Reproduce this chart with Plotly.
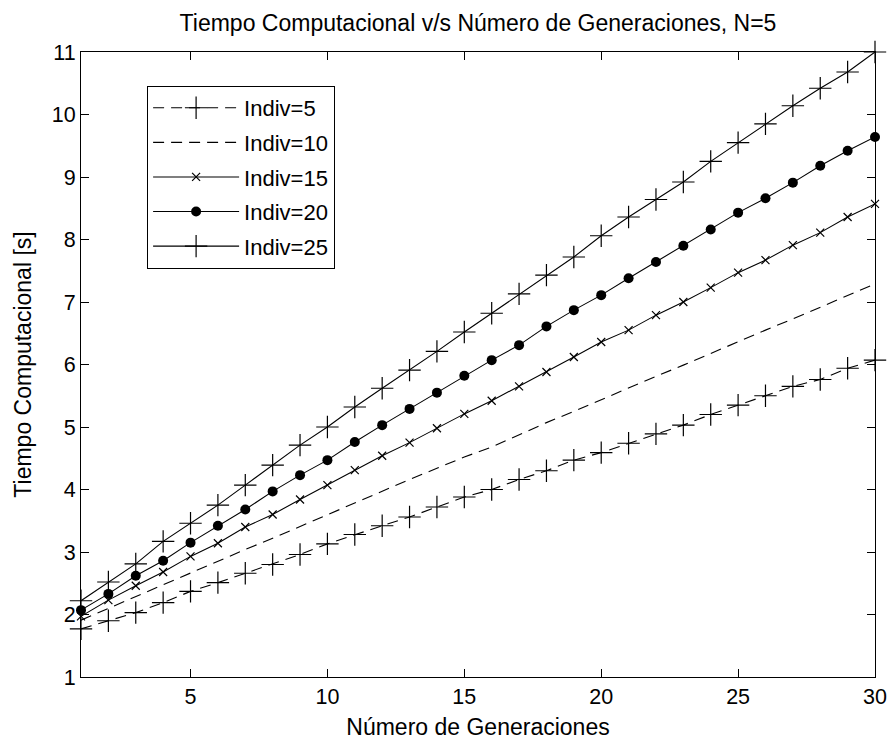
import plotly.graph_objects as go

# Number of generations
generaciones = list(range(1, 31))

# Computation time [s] for each population size (N=5)
indiv5 = [1.77, 1.90, 2.03, 2.19, 2.37, 2.51, 2.66, 2.80, 2.96, 3.13,
          3.28, 3.42, 3.56, 3.72, 3.88, 4.00, 4.16, 4.30, 4.47, 4.59,
          4.74, 4.89, 5.03, 5.20, 5.35, 5.50, 5.65, 5.76, 5.94, 6.07]
indiv10 = [1.91, 2.10, 2.29, 2.48, 2.66, 2.85, 3.04, 3.22, 3.41, 3.60,
           3.78, 3.97, 4.16, 4.34, 4.52, 4.68, 4.88, 5.07, 5.25, 5.44,
           5.62, 5.81, 5.99, 6.18, 6.36, 6.55, 6.73, 6.92, 7.10, 7.29]
indiv15 = [1.97, 2.23, 2.46, 2.68, 2.93, 3.14, 3.40, 3.60, 3.84, 4.07,
           4.31, 4.54, 4.75, 4.98, 5.21, 5.42, 5.65, 5.88, 6.12, 6.36,
           6.55, 6.79, 7.00, 7.23, 7.47, 7.67, 7.91, 8.11, 8.36, 8.57]
indiv20 = [2.07, 2.33, 2.62, 2.86, 3.15, 3.42, 3.68, 3.97, 4.23, 4.47,
           4.76, 5.03, 5.29, 5.55, 5.82, 6.07, 6.31, 6.61, 6.87, 7.11,
           7.38, 7.64, 7.90, 8.16, 8.43, 8.66, 8.91, 9.18, 9.42, 9.64]
indiv25 = [2.22, 2.52, 2.81, 3.17, 3.46, 3.75, 4.07, 4.39, 4.71, 5.00,
           5.32, 5.62, 5.91, 6.21, 6.52, 6.82, 7.13, 7.43, 7.72, 8.06,
           8.36, 8.64, 8.92, 9.25, 9.55, 9.85, 10.14, 10.42, 10.68, 11.00]

x_ticks = [5, 10, 15, 20, 25, 30]
y_ticks = list(range(1, 12))

FONT = "Liberation Sans, Arial, Helvetica, sans-serif"
DASH = "11px,7px"

plus = dict(symbol="cross-thin-open", size=16, line=dict(width=1.2, color="black"))
cross = dict(symbol="x-thin-open", size=8, line=dict(width=1.2, color="black"))
dot = dict(symbol="circle", size=10, color="black", line=dict(width=0))

series = [
    ("Indiv=5", indiv5, DASH, plus),
    ("Indiv=10", indiv10, DASH, None),
    ("Indiv=15", indiv15, "solid", cross),
    ("Indiv=20", indiv20, "solid", dot),
    ("Indiv=25", indiv25, "solid", plus),
]

fig = go.Figure()
for i, (name, vals, dash, mk) in enumerate(series):
    fig.add_trace(go.Scatter(
        x=generaciones, y=vals, name=name,
        mode="lines+markers" if mk else "lines",
        line=dict(color="black", width=1.1, dash=dash),
        marker=mk,
        cliponaxis=False,
        legendgroup=f"g{i}",
    ))

axis_common = dict(
    showline=True, linecolor="black", linewidth=1.2, mirror="allticks",
    ticks="inside", ticklen=8, tickwidth=1, tickcolor="black",
    showgrid=False, zeroline=False, automargin=False,
    tickfont=dict(family=FONT, size=21.5, color="black"),
)

fig.update_layout(
    width=890, height=740,
    margin=dict(l=81, r=15, t=52, b=63),
    paper_bgcolor="white", plot_bgcolor="white",
    font=dict(family=FONT, size=21.5, color="black"),
    title=dict(text="Tiempo Computacional v/s Número de Generaciones, N=5",
               x=0.5, xref="paper", xanchor="center",
               y=1 - 23 / 740, yref="container", yanchor="middle",
               font=dict(family=FONT, size=23, color="black")),
    xaxis=dict(range=[1, 30], tickvals=x_ticks,
               title=dict(text="Número de Generaciones", standoff=16,
                          font=dict(family=FONT, size=23, color="black")),
               **axis_common),
    yaxis=dict(range=[1, 11], tickvals=y_ticks,
               title=dict(text="Tiempo Computacional [s]", standoff=13,
                          font=dict(family=FONT, size=23, color="black")),
               **axis_common),
    legend=dict(x=0.083, y=0.946, xanchor="left", yanchor="top",
                bgcolor="white", bordercolor="black", borderwidth=1.2,
                font=dict(family=FONT, size=22, color="black"),
                itemwidth=86, tracegroupgap=3, traceorder="grouped"),
    showlegend=True,
)

fig.write_html("out.html")
